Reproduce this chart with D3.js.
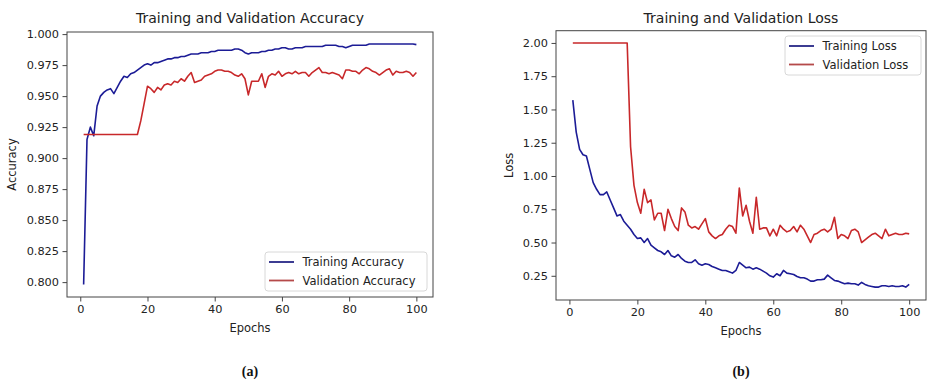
<!DOCTYPE html>
<html lang="en">
<head>
  <meta charset="utf-8">
  <title>Training curves</title>
  <script src="https://cdnjs.cloudflare.com/ajax/libs/d3/7.8.5/d3.min.js"></script>
  <style>
    html, body { margin: 0; padding: 0; background: #fff; }
    text { font-family: "DejaVu Sans", sans-serif; fill: #222; }
    .tick text { font-size: 11.3px; }
    .tick line { stroke: #444; }
    .cap { font-family: "Liberation Serif", "Times New Roman", serif; font-weight: bold; font-size: 14px; fill: #111; }
  </style>
</head>
<body>
<svg id="fig" width="935" height="386"></svg>
<script>
// epochs 1..100
var epochs = d3.range(1, 101);

var trainAcc = [
  0.798, 0.915, 0.925, 0.918, 0.942, 0.950, 0.953, 0.955, 0.956, 0.952,
  0.957, 0.962, 0.966, 0.965, 0.968, 0.969, 0.971, 0.973, 0.975, 0.976,
  0.975, 0.977, 0.977, 0.978, 0.979, 0.980, 0.980, 0.981, 0.981, 0.982,
  0.982, 0.983, 0.984, 0.984, 0.984, 0.985, 0.985, 0.985, 0.986, 0.986,
  0.987, 0.987, 0.987, 0.987, 0.987, 0.988, 0.988, 0.987, 0.985, 0.984,
  0.985, 0.985, 0.985, 0.986, 0.986, 0.987, 0.987, 0.988, 0.988, 0.989,
  0.989, 0.988, 0.988, 0.989, 0.989, 0.989, 0.990, 0.990, 0.990, 0.990,
  0.990, 0.990, 0.991, 0.991, 0.991, 0.991, 0.990, 0.990, 0.989, 0.990,
  0.991, 0.991, 0.991, 0.991, 0.991, 0.992, 0.992, 0.992, 0.992, 0.992,
  0.992, 0.992, 0.992, 0.992, 0.992, 0.992, 0.992, 0.992, 0.992, 0.9915
];
var valAcc = [
  0.919, 0.919, 0.919, 0.919, 0.919, 0.919, 0.919, 0.919, 0.919, 0.919,
  0.919, 0.919, 0.919, 0.919, 0.919, 0.919, 0.919, 0.930, 0.944, 0.958,
  0.956, 0.953, 0.957, 0.955, 0.959, 0.960, 0.959, 0.962, 0.961, 0.964,
  0.962, 0.966, 0.969, 0.961, 0.962, 0.963, 0.966, 0.967, 0.968, 0.970,
  0.971, 0.971, 0.970, 0.970, 0.969, 0.967, 0.966, 0.968, 0.964, 0.951,
  0.962, 0.962, 0.962, 0.968, 0.957, 0.966, 0.968, 0.967, 0.970, 0.966,
  0.968, 0.969, 0.968, 0.970, 0.968, 0.969, 0.969, 0.966, 0.969, 0.971,
  0.973, 0.969, 0.969, 0.968, 0.969, 0.968, 0.967, 0.964, 0.971, 0.971,
  0.970, 0.970, 0.968, 0.971, 0.973, 0.972, 0.970, 0.969, 0.967, 0.969,
  0.971, 0.972, 0.967, 0.970, 0.969, 0.969, 0.970, 0.969, 0.966, 0.969
];
var trainLoss = [
  1.57, 1.33, 1.20, 1.16, 1.15, 1.05, 0.95, 0.90, 0.86, 0.86,
  0.88, 0.82, 0.76, 0.70, 0.71, 0.66, 0.63, 0.60, 0.56, 0.53,
  0.535, 0.50, 0.53, 0.48, 0.46, 0.44, 0.43, 0.41, 0.44, 0.40,
  0.39, 0.41, 0.38, 0.36, 0.35, 0.35, 0.37, 0.34, 0.33, 0.34,
  0.335, 0.32, 0.31, 0.30, 0.29, 0.29, 0.28, 0.27, 0.29, 0.35,
  0.33, 0.31, 0.315, 0.30, 0.31, 0.30, 0.285, 0.27, 0.25, 0.24,
  0.265, 0.25, 0.29, 0.27, 0.265, 0.26, 0.245, 0.235, 0.235, 0.225,
  0.21, 0.21, 0.22, 0.22, 0.225, 0.255, 0.235, 0.215, 0.21, 0.20,
  0.19, 0.195, 0.19, 0.19, 0.18, 0.20, 0.185, 0.175, 0.17, 0.165,
  0.165, 0.175, 0.175, 0.17, 0.175, 0.17, 0.17, 0.175, 0.165, 0.185
];
var valLoss = [
  2.00, 2.00, 2.00, 2.00, 2.00, 2.00, 2.00, 2.00, 2.00, 2.00,
  2.00, 2.00, 2.00, 2.00, 2.00, 2.00, 2.00, 1.22, 0.93, 0.80,
  0.72, 0.90, 0.80, 0.82, 0.67, 0.72, 0.72, 0.59, 0.75, 0.68,
  0.62, 0.59, 0.76, 0.73, 0.63, 0.61, 0.62, 0.60, 0.64, 0.68,
  0.58, 0.55, 0.53, 0.55, 0.56, 0.60, 0.63, 0.62, 0.57, 0.91,
  0.70, 0.78, 0.66, 0.57, 0.84, 0.60, 0.61, 0.61, 0.55, 0.60,
  0.55, 0.63, 0.60, 0.58, 0.59, 0.62, 0.58, 0.63, 0.60, 0.55,
  0.50, 0.56, 0.57, 0.59, 0.60, 0.58, 0.60, 0.69, 0.53, 0.56,
  0.55, 0.53, 0.59, 0.60, 0.58, 0.50, 0.52, 0.54, 0.56, 0.57,
  0.55, 0.53, 0.60, 0.55, 0.56, 0.57, 0.56, 0.56, 0.57, 0.565
];

var accTicks = [0.800, 0.825, 0.850, 0.875, 0.900, 0.925, 0.950, 0.975, 1.000];
var lossTicks = [0.25, 0.50, 0.75, 1.00, 1.25, 1.50, 1.75, 2.00];
var epochTicks = [0, 20, 40, 60, 80, 100];

var trainColor = "#1c1c96", valColor = "#c8282a";
var trainLegend = "#262686", valLegend = "#b54a4a";

var svg = d3.select("#fig");
svg.append("rect").attr("width", 935).attr("height", 386).attr("fill", "#fff");

function panel(o) {
  var x = d3.scaleLinear().domain([-3.95, 104.95]).range([o.left, o.right]);
  var y = d3.scaleLinear().domain(o.ydom).range([o.bottom, o.top]);
  var g = svg.append("g");

  var line = d3.line().x(function (d, i) { return x(epochs[i]); }).y(function (d) { return y(d); });
  g.append("path").datum(o.s1).attr("d", line).attr("fill", "none")
    .attr("stroke", trainColor).attr("stroke-width", 1.6).attr("stroke-linejoin", "round");
  g.append("path").datum(o.s2).attr("d", line).attr("fill", "none")
    .attr("stroke", valColor).attr("stroke-width", 1.6).attr("stroke-linejoin", "round");

  var xa = g.append("g").attr("transform", "translate(0," + o.bottom + ")")
    .call(d3.axisBottom(x).tickValues(epochTicks).tickSize(4.5).tickPadding(3.5));
  xa.select(".domain").remove();
  var ya = g.append("g").attr("transform", "translate(" + o.left + ",0)")
    .call(d3.axisLeft(y).tickValues(o.yticks).tickFormat(d3.format(o.fmt)).tickSize(4.5).tickPadding(3.5));
  ya.select(".domain").remove();

  g.append("rect").attr("x", o.left).attr("y", o.top)
    .attr("width", o.right - o.left).attr("height", o.bottom - o.top)
    .attr("fill", "none").attr("stroke", "#444").attr("stroke-width", 1);

  var cx = (o.left + o.right) / 2;
  g.append("text").attr("x", cx).attr("y", 23).attr("text-anchor", "middle")
    .style("font-size", "14px").text(o.title);
  g.append("text").attr("x", cx).attr("y", o.bottom + 35).attr("text-anchor", "middle")
    .style("font-size", "11.5px").text("Epochs");
  g.append("text").attr("transform", "translate(" + o.ylabX + "," + ((o.top + o.bottom) / 2) + ") rotate(-90)")
    .attr("text-anchor", "middle").style("font-size", "11.5px").text(o.ylab);
  g.append("text").attr("class", "cap").attr("x", cx).attr("y", 376)
    .attr("text-anchor", "middle").text(o.cap);

  // legend
  var L = o.legend;
  var lg = g.append("g").attr("transform", "translate(" + L.x + "," + L.y + ")");
  lg.append("rect").attr("width", L.w).attr("height", 39).attr("rx", 3)
    .attr("fill", "#fff").attr("fill-opacity", 0.8).attr("stroke", "#d8d8d8");
  [[o.names[0], trainLegend], [o.names[1], valLegend]].forEach(function (it, i) {
    var yy = 10 + i * 18.5;
    lg.append("line").attr("x1", 4).attr("x2", 29).attr("y1", yy).attr("y2", yy)
      .attr("stroke", it[1]).attr("stroke-width", 1.8);
    lg.append("text").attr("x", 37.5).attr("y", yy + 4).style("font-size", "11.5px").text(it[0]);
  });
}

panel({
  left: 67, right: 433, top: 32, bottom: 297,
  ydom: [0.788, 1.0017], yticks: accTicks, fmt: ".3f",
  s1: trainAcc, s2: valAcc,
  title: "Training and Validation Accuracy", ylab: "Accuracy", ylabX: 16, cap: "(a)",
  names: ["Training Accuracy", "Validation Accuracy"],
  legend: { x: 265, y: 252, w: 162 }
});

panel({
  left: 556, right: 926, top: 30.7, bottom: 300,
  ydom: [0.068, 2.092], yticks: lossTicks, fmt: ".2f",
  s1: trainLoss, s2: valLoss,
  title: "Training and Validation Loss", ylab: "Loss", ylabX: 513, cap: "(b)",
  names: ["Training Loss", "Validation Loss"],
  legend: { x: 785, y: 36, w: 136 }
});
</script>
</body>
</html>
